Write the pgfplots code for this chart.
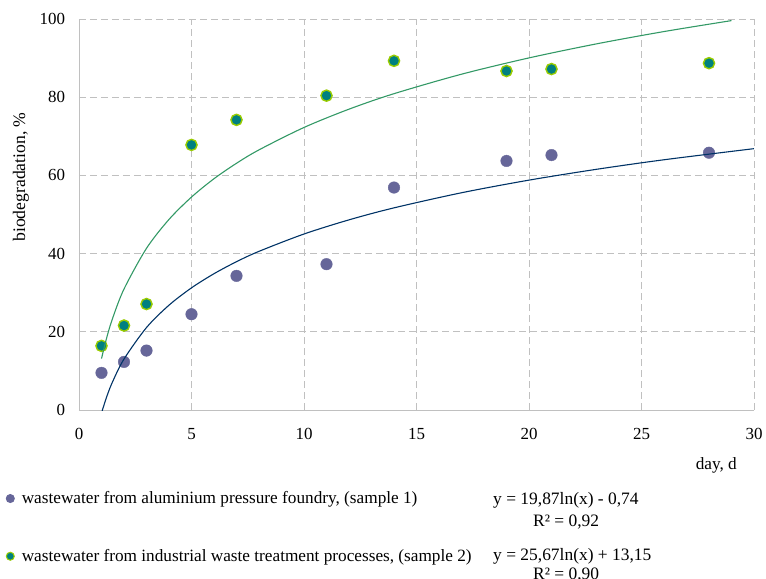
\documentclass[border=0pt]{standalone}
\usepackage{fontspec}
\setmainfont{Liberation Serif}
\usepackage{pgfplots}
\pgfplotsset{compat=1.18}
\definecolor{sone}{HTML}{666699}
\definecolor{stwo}{HTML}{008080}
\definecolor{stwob}{HTML}{99CC00}
\definecolor{lone}{HTML}{003366}
\definecolor{ltwo}{HTML}{339966}
\definecolor{gridc}{HTML}{C0C0C0}
\begin{document}
\fontsize{17.3}{20}\selectfont
\begin{tikzpicture}
\useasboundingbox (-79bp,-169bp) rectangle (687bp,410bp);
\begin{axis}[
  scale only axis, width=675bp, height=391bp,
  at={(0,0)}, anchor=south west,
  xmin=0, xmax=30, ymin=0, ymax=100,
  xtick={0,5,...,30}, ytick={0,20,...,100},
  axis x line=bottom, axis y line=left,
  axis line style={-, draw=gridc, line width=0.8bp},
  grid=major,
  major grid style={draw=gridc, line width=0.8bp, dash pattern=on 7bp off 4bp},
  major tick length=0pt,
  /pgf/number format/assume math mode=true,
  tick label style={font=\fontsize{17}{20}\selectfont},
  xticklabel style={yshift=-12bp},
  yticklabel style={xshift=-8bp},
  clip mode=individual,
  legend style={draw=none, fill=none, at={(axis description cs:-0.108,-0.202)}, anchor=north west,
    font=\fontsize{17.3}{20}\selectfont, row sep=39bp, inner sep=0pt,
    /tikz/every odd column/.style={column sep=5.5bp}},
  legend image post style={mark size=4bp, every mark/.append style={line width=1bp}},
  legend cell align=left,
]
\addplot[only marks, mark=*, mark size=5.8bp, mark options={fill=sone, draw=sone}] coordinates {
 (1,9.5) (2,12.3) (3,15.2) (5,24.5) (7,34.3) (11,37.3) (14,56.9) (19,63.7) (21,65.2) (28,65.8)};
\addlegendentry{wastewater from aluminium pressure foundry, (sample 1)}
\addplot[only marks, mark=*, mark size=5.6bp, mark options={fill=stwo, draw=stwob, line width=1.4bp}] coordinates {
 (1,16.4) (2,21.6) (3,27.1) (5,67.8) (7,74.2) (11,80.4) (14,89.3) (19,86.7) (21,87.2) (28,88.7)};
\addlegendentry{wastewater from industrial waste treatment processes, (sample 2)}
\addplot[lone, line width=1.1bp, smooth, forget plot] coordinates {
 (1,-0.74) (1.25,3.69) (1.5,7.32) (2,13.03) (3,21.09) (4,26.81) (5,31.24) (6,34.86) (7,37.93) (8,40.58)
 (10,45.01) (12,48.63) (14,51.70) (17,55.56) (20,58.79) (23,61.56) (26,64.00) (30,66.84)};
\addplot[ltwo, line width=1.1bp, smooth, forget plot] coordinates {
 (1,13.15) (1.25,18.88) (1.5,23.56) (2,30.94) (3,41.35) (4,48.74) (5,54.46) (6,59.15) (7,63.10) (8,66.53)
 (10,72.26) (12,76.94) (14,80.90) (17,85.88) (20,90.05) (23,93.64) (26,96.79) (29,99.59)};
\end{axis}
\node[rotate=90, font=\fontsize{17.7}{20}\selectfont] at (-58bp,233bp) {biodegradation, \%};
\node[anchor=east, inner sep=0pt] at (658bp,-55bp) {day, d};
\begin{scope}[every node/.style={anchor=base west, inner sep=0pt, font=\fontsize{17.5}{20}\selectfont}]
\node at (414bp,-94bp) {y = 19,87ln(x) - 0,74};
\node at (454bp,-116bp) {R² = 0,92};
\node at (414bp,-150bp) {y = 25,67ln(x) + 13,15};
\node at (454bp,-169bp) {R² = 0,90};
\end{scope}
\end{tikzpicture}
\end{document}
